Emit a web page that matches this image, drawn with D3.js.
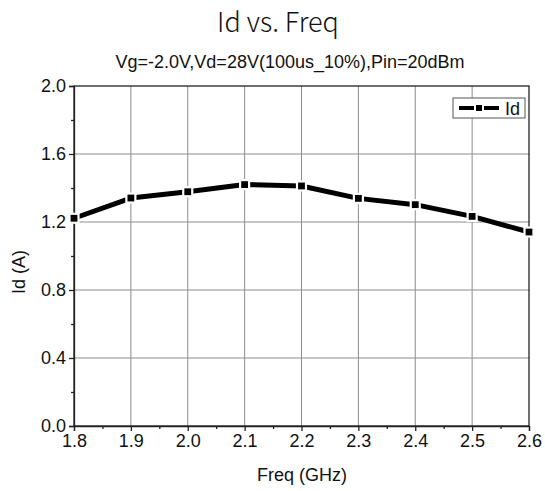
<!DOCTYPE html>
<html><head><meta charset="utf-8">
<script src="https://cdn.jsdelivr.net/npm/d3@7"></script>
<style>body{margin:0;background:#fff}svg{display:block}</style>
</head><body>
<script>
const freqs = [1.8, 1.9, 2.0, 2.1, 2.2, 2.3, 2.4, 2.5, 2.6];
const idValues = [1.222, 1.341, 1.378, 1.420, 1.412, 1.339, 1.302, 1.233, 1.141];
const xTicks = [1.8, 1.9, 2.0, 2.1, 2.2, 2.3, 2.4, 2.5, 2.6];
const yTicks = [0.0, 0.4, 0.8, 1.2, 1.6, 2.0];
const xMinor = [1.85, 1.95, 2.05, 2.15, 2.25, 2.35, 2.45, 2.55];
const yMinor = [0.2, 0.6, 1.0, 1.4, 1.8];
const titleText = "Id vs. Freq";
const subtitleText = "Vg=-2.0V,Vd=28V(100us_10%),Pin=20dBm";
const seriesName = "Id";

const W = 545, H = 491;
const m = {l: 74, r: 16, t: 86, b: 65};
const svg = d3.select("body").append("svg").attr("width", W).attr("height", H);
const x = d3.scaleLinear().domain([1.8, 2.6]).range([m.l, W - m.r]);
const y = d3.scaleLinear().domain([0, 2.0]).range([H - m.b, m.t]);
const font = "Arial, 'Liberation Sans', sans-serif";

// grid
svg.append("g").selectAll("line").data(xTicks.slice(1, -1)).join("line")
  .attr("x1", d => x(d)).attr("x2", d => x(d)).attr("y1", y(0)).attr("y2", y(2))
  .attr("stroke", "#8c8c8c").attr("stroke-width", 1);
svg.append("g").selectAll("line").data(yTicks.slice(1, -1)).join("line")
  .attr("y1", d => y(d)).attr("y2", d => y(d)).attr("x1", x(1.8)).attr("x2", x(2.6))
  .attr("stroke", "#8c8c8c").attr("stroke-width", 1);

// frame
svg.append("rect").attr("x", x(1.8)).attr("y", y(2)).attr("width", x(2.6) - x(1.8)).attr("height", y(0) - y(2))
  .attr("fill", "none").attr("stroke", "#222").attr("stroke-width", 1.3);

// axes
const fmt = d3.format(".1f");
svg.append("g").attr("transform", `translate(0,${y(0)})`)
  .call(d3.axisBottom(x).tickValues(xTicks).tickFormat(fmt).tickSize(5).tickPadding(3));
svg.append("g").attr("transform", `translate(0,${y(0)})`)
  .call(d3.axisBottom(x).tickValues(xMinor).tickFormat("").tickSize(3))
  .call(g => g.select(".domain").remove());
svg.append("g").attr("transform", `translate(${x(1.8)},0)`)
  .call(d3.axisLeft(y).tickValues(yTicks).tickFormat(fmt).tickSize(5).tickPadding(3));
svg.append("g").attr("transform", `translate(${x(1.8)},0)`)
  .call(d3.axisLeft(y).tickValues(yMinor).tickFormat("").tickSize(3))
  .call(g => g.select(".domain").remove());
svg.selectAll(".tick line, .domain").attr("stroke", "#222").attr("stroke-width", 1.3);
svg.selectAll(".tick text").attr("font-family", font).attr("font-size", 18).attr("fill", "#111");

// line
const line = d3.line().x((d, i) => x(freqs[i])).y(d => y(d));
svg.append("path").datum(idValues).attr("d", line).attr("fill", "none")
  .attr("stroke", "#000").attr("stroke-width", 5).attr("stroke-linejoin", "round");
svg.append("g").selectAll("rect").data(idValues).join("rect")
  .attr("x", (d, i) => x(freqs[i]) - 4.5).attr("y", d => y(d) - 4.5)
  .attr("width", 9).attr("height", 9).attr("fill", "#000").attr("stroke", "#fff").attr("stroke-width", 2.2);

// titles
svg.append("text").attr("x", 278).attr("y", 32).attr("text-anchor", "middle")
  .attr("font-family", "'Noto Sans CJK SC', 'Noto Sans', sans-serif").attr("font-weight", 300)
  .attr("font-size", 27).attr("fill", "#111").text(titleText);
svg.append("text").attr("x", 290).attr("y", 68).attr("text-anchor", "middle")
  .attr("font-family", font).attr("font-size", 18).attr("fill", "#111").text(subtitleText);
svg.append("text").attr("x", 302).attr("y", 481).attr("text-anchor", "middle")
  .attr("font-family", font).attr("font-size", 18).attr("fill", "#111").text("Freq (GHz)");
svg.append("text").attr("transform", "translate(25,272) rotate(-90)").attr("text-anchor", "middle")
  .attr("font-family", font).attr("font-size", 18).attr("fill", "#111").text("Id (A)");

// legend
const lg = svg.append("g");
lg.append("rect").attr("x", 453).attr("y", 98).attr("width", 72).attr("height", 20)
  .attr("fill", "#fff").attr("stroke", "#555").attr("stroke-width", 1);
lg.append("line").attr("x1", 459).attr("x2", 499).attr("y1", 108).attr("y2", 108)
  .attr("stroke", "#000").attr("stroke-width", 4);
lg.append("rect").attr("x", 475).attr("y", 104).attr("width", 8).attr("height", 8)
  .attr("fill", "#000").attr("stroke", "#fff").attr("stroke-width", 2);
lg.append("text").attr("x", 505).attr("y", 115).attr("font-family", font).attr("font-size", 18)
  .attr("fill", "#111").text(seriesName);
</script>
</body></html>
